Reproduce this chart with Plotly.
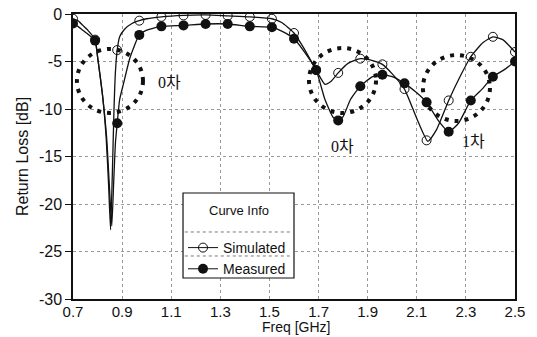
import plotly.graph_objects as go

# ---- data ----
sim_line_x = [0.70, 0.72, 0.74, 0.76, 0.79, 0.80, 0.82, 0.835, 0.845, 0.853, 0.860, 0.867, 0.873, 0.88,
              0.89, 0.91, 0.94, 0.97, 1.00, 1.06, 1.15, 1.24, 1.33, 1.42, 1.51, 1.55, 1.60, 1.64,
              1.69, 1.726, 1.75, 1.78, 1.82, 1.87, 1.92, 1.96, 2.00, 2.05, 2.10, 2.145, 2.18,
              2.23, 2.28, 2.32, 2.37, 2.41, 2.45, 2.50]
sim_line_y = [-0.5, -0.7, -1.2, -1.7, -2.7, -4.5, -8.5, -13.0, -18.0, -22.7, -17.0, -10.0, -6.0, -3.8,
              -2.4, -1.6, -1.0, -0.7, -0.5, -0.3, -0.15, -0.1, -0.2, -0.3, -0.5, -0.9, -2.0, -3.6,
              -5.9, -7.4, -7.1, -6.2, -5.2, -4.7, -4.9, -5.3, -6.3, -7.9, -11.0, -13.4, -12.2,
              -9.1, -6.4, -4.5, -3.0, -2.4, -2.7, -4.0]

meas_line_x = [0.70, 0.72, 0.74, 0.76, 0.79, 0.80, 0.82, 0.837, 0.85, 0.858, 0.866, 0.873, 0.88,
               0.89, 0.905, 0.932, 0.97, 1.00, 1.06, 1.15, 1.24, 1.33, 1.42, 1.51, 1.55, 1.60,
               1.64, 1.69, 1.726, 1.76, 1.78, 1.80, 1.83, 1.87, 1.92, 1.96, 2.00, 2.05, 2.10,
               2.14, 2.19, 2.23, 2.27, 2.32, 2.37, 2.41, 2.46, 2.50]
meas_line_y = [-1.0, -1.3, -1.7, -2.1, -2.8, -4.5, -8.5, -13.0, -19.0, -22.3, -17.5, -13.5, -11.5,
               -9.0, -7.4, -4.6, -2.2, -1.7, -1.3, -1.2, -1.05, -1.05, -1.3, -1.4, -1.8, -2.6,
               -3.9, -5.9, -9.0, -10.9, -11.2, -10.8, -9.0, -7.6, -6.6, -6.4, -6.6, -7.3, -8.3,
               -9.3, -11.3, -12.4, -11.5, -9.1, -7.8, -6.6, -5.8, -5.0]

marker_x = [0.70, 0.79, 0.88, 0.97, 1.06, 1.15, 1.24, 1.33, 1.42, 1.51, 1.60, 1.69, 1.78,
            1.87, 1.96, 2.05, 2.14, 2.23, 2.32, 2.41, 2.50]
sim_marker_y = [-0.5, -2.7, -3.8, -0.7, -0.3, -0.15, -0.1, -0.2, -0.3, -0.5, -2.0, -5.9, -6.2,
                -4.7, -5.3, -7.9, -13.3, -9.1, -4.5, -2.4, -4.0]
meas_marker_y = [-1.0, -2.8, -11.5, -2.2, -1.3, -1.2, -1.05, -1.05, -1.3, -1.4, -2.6, -5.9, -11.2,
                 -7.6, -6.4, -7.3, -9.3, -12.4, -9.1, -6.6, -5.0]

x_ticks = [0.7, 0.9, 1.1, 1.3, 1.5, 1.7, 1.9, 2.1, 2.3, 2.5]
x_tick_labels = ["0.7", "0.9", "1.1", "1.3", "1.5", "1.7", "1.9", "2.1", "2.3", "2.5"]
y_ticks = [0, -5, -10, -15, -20, -25, -30]
y_tick_labels = ["0", "-5", "-10", "-15", "-20", "-25", "-30"]
x_title = "Freq [GHz]"
y_title = "Return Loss [dB]"

# highlight ellipses (x0, x1, y0, y1) and their labels
ellipse_x0 = [0.716, 1.661, 2.125]
ellipse_x1 = [0.985, 1.934, 2.398]
ellipse_y0 = [-3.68, -3.58, -4.32]
ellipse_y1 = [-10.42, -10.42, -11.26]
label_text = ["0차", "0차", "1차"]
label_x = [1.095, 1.797, 2.331]
label_y = [-7.2, -13.9, -13.4]

series_names = ["Simulated", "Measured"]
legend_title = "Curve Info"

fig = go.Figure()
BLACK = "#111111"

# lines
fig.add_trace(go.Scatter(x=sim_line_x, y=sim_line_y, mode="lines",
                         line=dict(color=BLACK, width=1.3, shape="spline", smoothing=0.5),
                         showlegend=False, hoverinfo="skip"))
fig.add_trace(go.Scatter(x=meas_line_x, y=meas_line_y, mode="lines",
                         line=dict(color=BLACK, width=1.3, shape="spline", smoothing=0.5),
                         showlegend=False, hoverinfo="skip"))
# markers
fig.add_trace(go.Scatter(x=marker_x, y=sim_marker_y, mode="markers",
                         marker=dict(symbol="circle-open", size=9, color=BLACK, line=dict(width=1)),
                         showlegend=False))
fig.add_trace(go.Scatter(x=marker_x, y=meas_marker_y, mode="markers",
                         marker=dict(symbol="circle", size=10, color=BLACK),
                         showlegend=False))
# legend entries
fig.add_trace(go.Scatter(x=[None], y=[None], mode="lines+markers", name=series_names[0],
                         line=dict(color=BLACK, width=1),
                         marker=dict(symbol="circle-open", size=9, color=BLACK, line=dict(width=1))))
fig.add_trace(go.Scatter(x=[None], y=[None], mode="lines+markers", name=series_names[1],
                         line=dict(color=BLACK, width=1),
                         marker=dict(symbol="circle", size=10, color=BLACK)))

shapes = []
for x0, x1, y0, y1 in zip(ellipse_x0, ellipse_x1, ellipse_y0, ellipse_y1):
    shapes.append(dict(type="circle", xref="x", yref="y", x0=x0, x1=x1, y0=y0, y1=y1,
                       line=dict(color=BLACK, width=4, dash="4px,6px")))

# legend box (drawn as shapes so that separators can be added)
LX0, LX1, LY0, LY1 = 0.2489, 0.50, 0.0737, 0.3719
shapes.append(dict(type="rect", xref="paper", yref="paper", x0=LX0, x1=LX1, y0=LY0, y1=LY1,
                   fillcolor="white", line=dict(color=BLACK, width=1.2), layer="above"))
for ys in [0.2351, 0.1509]:
    shapes.append(dict(type="line", xref="paper", yref="paper", x0=LX0 + 0.004, x1=LX1 - 0.004, y0=ys, y1=ys,
                       line=dict(color="#777777", width=1, dash="dot"), layer="above"))

annotations = []
for t, x, y in zip(label_text, label_x, label_y):
    annotations.append(dict(x=x, y=y, xref="x", yref="y", text=t, showarrow=False,
                            font=dict(family="Liberation Serif, Noto Sans CJK KR", size=16, color=BLACK)))
annotations.append(dict(x=(LX0 + LX1) / 2, y=0.3088, xref="paper", yref="paper", text=legend_title,
                        xanchor="center", yanchor="middle",
                        showarrow=False, font=dict(size=13, color=BLACK)))
# x-axis title placed right under the tick labels, as in the reference
annotations.append(dict(x=0.505, y=-0.1298, xref="paper", yref="paper", text=x_title,
                        xanchor="center", yanchor="bottom", showarrow=False, borderpad=0,
                        font=dict(size=14, color=BLACK)))

fig.update_layout(
    width=537, height=337,
    margin=dict(l=73, r=22, t=14, b=38, autoexpand=False),
    paper_bgcolor="white", plot_bgcolor="white",
    font=dict(family="Liberation Sans, Arial, sans-serif", color=BLACK),
    shapes=shapes, annotations=annotations,
    showlegend=True,
    legend=dict(x=LX0, y=0.2351, xanchor="left", yanchor="top",
                bgcolor="rgba(0,0,0,0)", borderwidth=0,
                font=dict(size=14), itemwidth=30),
)
fig.update_xaxes(range=[0.7, 2.5], tickvals=x_ticks, ticktext=x_tick_labels, automargin=False,
                 showgrid=True, gridcolor="#999999", griddash="dot", gridwidth=1,
                 showline=True, linecolor=BLACK, linewidth=1.5, mirror=True,
                 ticks="", ticklabelstandoff=-2, tickfont=dict(size=15), zeroline=False)
fig.update_yaxes(range=[-30, 0], tickvals=y_ticks, ticktext=y_tick_labels, automargin=False,
                 showgrid=True, gridcolor="#999999", griddash="dot", gridwidth=1,
                 showline=True, linecolor=BLACK, linewidth=1.5, mirror=True,
                 ticks="outside", ticklen=6, tickcolor=BLACK,
                 tickfont=dict(size=16), zeroline=False,
                 title=dict(text=y_title, font=dict(size=16), standoff=6))

fig.write_html("out.html", config={"displayModeBar": False},
               post_script="document.body.style.margin='0';")
